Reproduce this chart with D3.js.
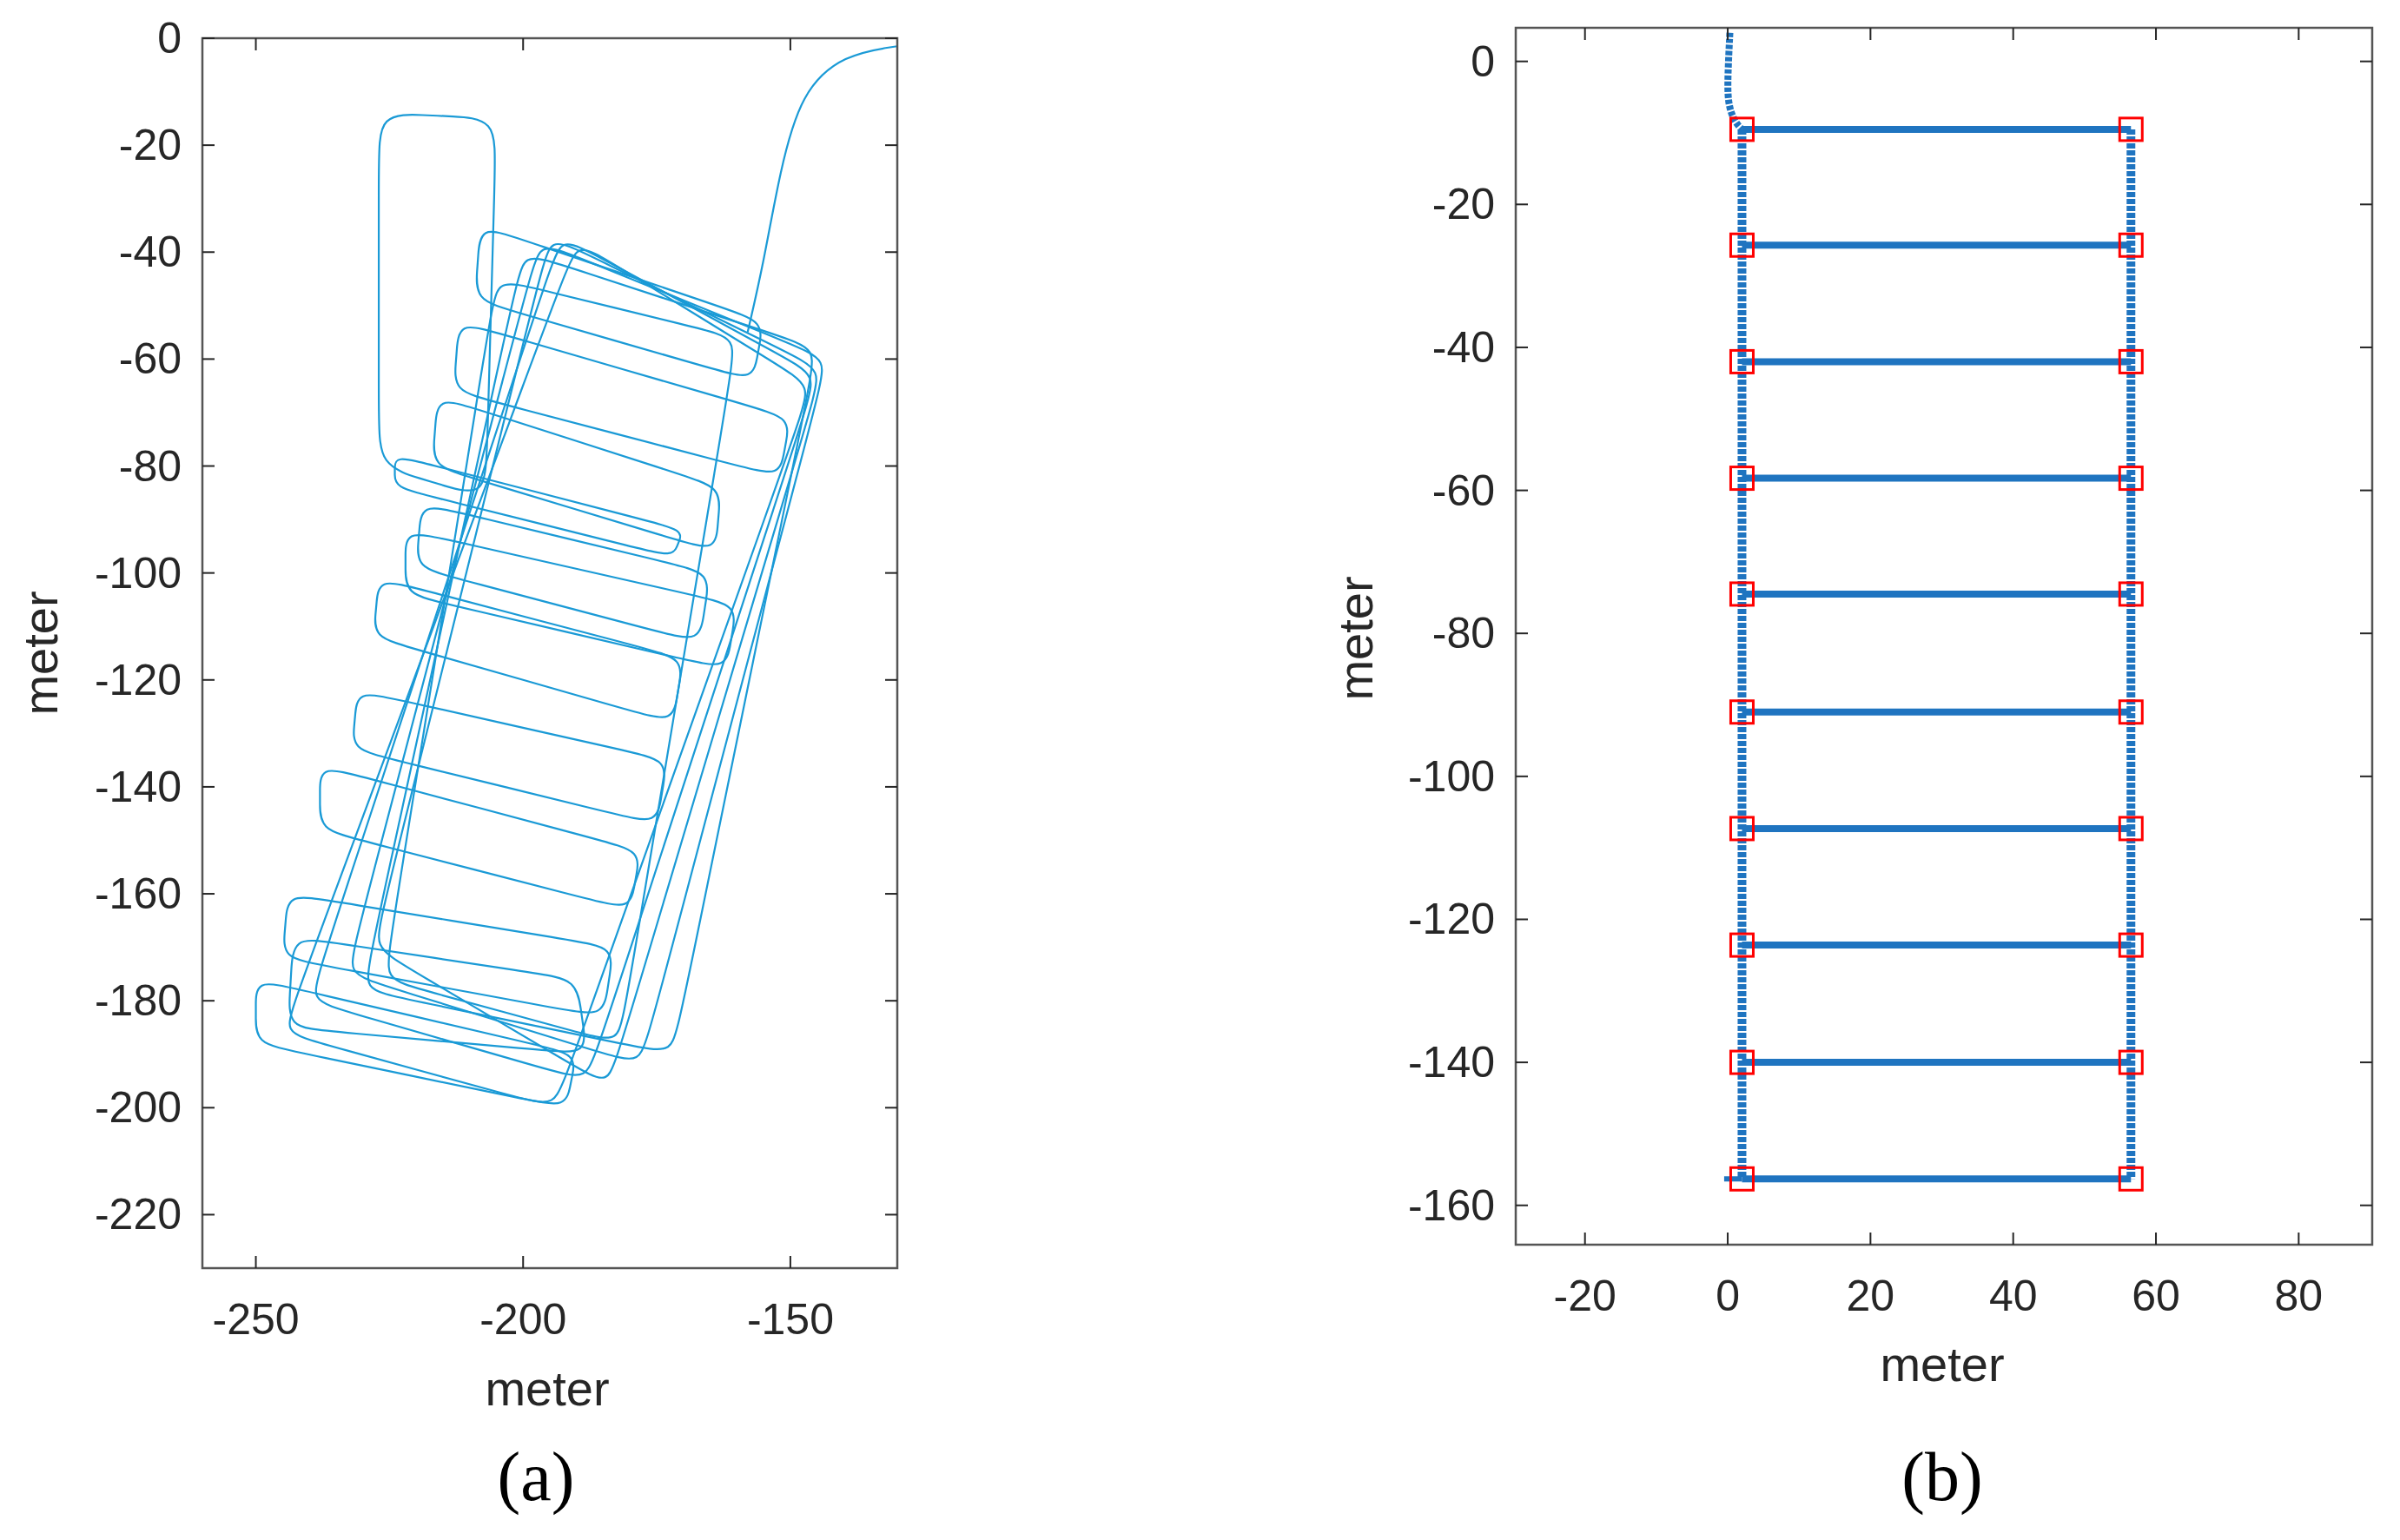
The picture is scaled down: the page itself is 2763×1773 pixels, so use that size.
<!DOCTYPE html>
<html><head><meta charset="utf-8">
<script src="https://cdn.jsdelivr.net/npm/d3@7"></script>
<style>body{margin:0;background:#fff}</style></head>
<body><svg id="c" width="2763" height="1773"></svg>
<script>
// ---------- data ----------
const aXTicks = [-250, -200, -150];
const aYTicks = [0, -20, -40, -60, -80, -100, -120, -140, -160, -180, -200, -220];
const bXTicks = [-20, 0, 20, 40, 60, 80];
const bYTicks = [0, -20, -40, -60, -80, -100, -120, -140, -160];

// trajectory (a): entry curve
const aEntry = [[-130,-1.5],[-140,-3],[-148,-10],[-152,-25],[-155,-42],[-158,-55]];
// trajectory (a): tall first loop
const aTall = [[-227,-14],[-205,-15],[-207,-86],[-227,-80]];
// trajectory (a): closed loops, corner waypoints
const aLoops = [
  [[-224,-78],[-170,-92],[-172,-97],[-224,-84]],
  [[-208,-35],[-155,-53],[-157,-64],[-209,-49]],
  [[-212,-53],[-150,-71],[-152,-82],[-213,-66]],
  [[-216,-67],[-163,-84],[-164,-96],[-217,-80]],
  [[-219,-87],[-165,-100],[-167,-113],[-220,-99]],
  [[-222,-92],[-160,-106],[-162,-118],[-222,-104]],
  [[-227,-101],[-170,-116],[-172,-128],[-228,-112]],
  [[-231,-122],[-173,-135],[-175,-147],[-232,-133]],
  [[-238,-136],[-178,-152],[-180,-163],[-238,-148]],
  [[-244,-160],[-183,-170],[-185,-183],[-245,-172]],
  [[-243,-168],[-190,-176],[-188,-190],[-244,-185]],
  [[-250,-176],[-190,-190],[-192,-200],[-250,-188]],
  [[-200,-40],[-145,-58],[-172,-190],[-230,-178]],
  [[-197,-38],[-143,-60],[-178,-192],[-233,-175]],
  [[-195,-37],[-144,-62],[-184,-196],[-228,-170]],
  [[-193,-37],[-145,-63],[-188,-195],[-240,-180]],
  [[-190,-38],[-146,-65],[-194,-200],[-245,-186]],
  [[-205,-45],[-160,-56],[-182,-188],[-226,-176]]
];

// trajectory (b)
const bEntry = [[0.3,4],[0,-2],[0,-6],[1,-8.5],[2,-9.5]];
const bRowY = [-9.5,-25.7,-42,-58.3,-74.5,-91,-107.3,-123.6,-140,-156.3];
const bLeftX = 2, bRightX = 56.5;

// ---------- drawing ----------
const svg = d3.select("#c");
const FONT = "'Liberation Sans', Arial, sans-serif";

function frame(g, x, y, xt, yt, L, R, T, B) {
  const ax = "#262626";
  g.append("rect").attr("x",L).attr("y",T).attr("width",R-L).attr("height",B-T)
   .attr("fill","none").attr("stroke","#555").attr("stroke-width",2.5);
  const tl = 14;
  xt.forEach(v=>{
    g.append("line").attr("x1",x(v)).attr("x2",x(v)).attr("y1",B).attr("y2",B-tl).attr("stroke",ax).attr("stroke-width",2);
    g.append("line").attr("x1",x(v)).attr("x2",x(v)).attr("y1",T).attr("y2",T+tl).attr("stroke",ax).attr("stroke-width",2);
    g.append("text").attr("x",x(v)).attr("y",B+76).attr("text-anchor","middle")
     .attr("font-family",FONT).attr("font-size",50).attr("fill","#262626").text(v);
  });
  yt.forEach(v=>{
    g.append("line").attr("y1",y(v)).attr("y2",y(v)).attr("x1",L).attr("x2",L+tl).attr("stroke",ax).attr("stroke-width",2);
    g.append("line").attr("y1",y(v)).attr("y2",y(v)).attr("x1",R).attr("x2",R-tl).attr("stroke",ax).attr("stroke-width",2);
    g.append("text").attr("x",L-24).attr("y",y(v)+17).attr("text-anchor","end")
     .attr("font-family",FONT).attr("font-size",50).attr("fill","#262626").text(v);
  });
}

// rounding helper: add points near each corner, then basis curve
function rounded(poly, r) {
  const out = [];
  const n = poly.length;
  for (let i=0;i<n;i++){
    const p=poly[i], a=poly[(i-1+n)%n], b=poly[(i+1)%n];
    const da=Math.hypot(a[0]-p[0],a[1]-p[1]), db=Math.hypot(b[0]-p[0],b[1]-p[1]);
    const ta=Math.min(r/da,0.45), tb=Math.min(r/db,0.45);
    out.push([p[0]+(a[0]-p[0])*ta, p[1]+(a[1]-p[1])*ta]);
    out.push(p);
    out.push([p[0]+(b[0]-p[0])*tb, p[1]+(b[1]-p[1])*tb]);
  }
  return out;
}

// ----- panel a -----
{
  const L=233,R=1033,T=44,B=1460;
  const x=d3.scaleLinear().domain([-260,-130]).range([L,R]);
  const y=d3.scaleLinear().domain([-230,0]).range([B,T]);
  const g=svg.append("g");
  g.append("clipPath").attr("id","ca").append("rect").attr("x",L).attr("y",T).attr("width",R-L).attr("height",B-T);
  const pg=g.append("g").attr("clip-path","url(#ca)");
  const col="#1a9ad6";
  const lineOpen=d3.line().x(d=>x(d[0])).y(d=>y(d[1])).curve(d3.curveBasis);
  const lineClosed=d3.line().x(d=>x(d[0])).y(d=>y(d[1])).curve(d3.curveBasisClosed);
  pg.append("path").attr("d",lineOpen(aEntry)).attr("fill","none").attr("stroke",col).attr("stroke-width",2.2);
  pg.append("path").attr("d",lineClosed(rounded(aTall,9))).attr("fill","none").attr("stroke",col).attr("stroke-width",2.2);
  aLoops.forEach(p=>pg.append("path").attr("d",lineClosed(rounded(p,7)))
     .attr("fill","none").attr("stroke",col).attr("stroke-width",2.2));
  frame(g,x,y,aXTicks,aYTicks,L,R,T,B);
  g.append("text").attr("x",630).attr("y",1618).attr("text-anchor","middle").attr("font-family",FONT).attr("font-size",56).attr("fill","#262626").text("meter");
  g.append("text").attr("transform","translate(66,752) rotate(-90)").attr("text-anchor","middle").attr("font-family",FONT).attr("font-size",56).attr("fill","#262626").text("meter");
  g.append("text").attr("x",617).attr("y",1727).attr("text-anchor","middle").attr("font-family","'Liberation Serif','Times New Roman',serif").attr("font-size",80).attr("fill","#000").text("(a)");
}

// ----- panel b -----
{
  const L=1745,R=2731,T=32,B=1433;
  const x=d3.scaleLinear().domain([-29.7,90.3]).range([L,R]);
  const y=d3.scaleLinear().domain([-165.5,4.7]).range([B,T]);
  const g=svg.append("g");
  const col="#1f74c0";
  const line=d3.line().x(d=>x(d[0])).y(d=>y(d[1]));
  g.append("path").attr("d",line.curve(d3.curveBasis)(bEntry)).attr("fill","none").attr("stroke",col).attr("stroke-width",8).attr("stroke-dasharray","5,2");
  const ln=d3.line().x(d=>x(d[0])).y(d=>y(d[1]));
  [bLeftX,bRightX].forEach(vx=>{
    g.append("path").attr("d",ln([[vx,bRowY[0]],[vx,bRowY[bRowY.length-1]]]))
     .attr("stroke",col).attr("stroke-width",10).attr("stroke-dasharray","6,2").attr("fill","none");
  });
  bRowY.forEach(v=>{
    g.append("path").attr("d",ln([[bLeftX,v],[bRightX,v]])).attr("stroke",col).attr("stroke-width",8).attr("fill","none");
  });
  g.append("path").attr("d",ln([[-0.5,bRowY[bRowY.length-1]],[bLeftX,bRowY[bRowY.length-1]]])).attr("stroke",col).attr("stroke-width",6);
  const s=26;
  bRowY.forEach(v=>[bLeftX,bRightX].forEach(vx=>{
    g.append("rect").attr("x",x(vx)-s/2).attr("y",y(v)-s/2).attr("width",s).attr("height",s)
     .attr("fill","none").attr("stroke","#ff0000").attr("stroke-width",3);
  }));
  frame(g,x,y,bXTicks,bYTicks,L,R,T,B);
  g.append("text").attr("x",2236).attr("y",1590).attr("text-anchor","middle").attr("font-family",FONT).attr("font-size",56).attr("fill","#262626").text("meter");
  g.append("text").attr("transform","translate(1580,735) rotate(-90)").attr("text-anchor","middle").attr("font-family",FONT).attr("font-size",56).attr("fill","#262626").text("meter");
  g.append("text").attr("x",2236).attr("y",1727).attr("text-anchor","middle").attr("font-family","'Liberation Serif','Times New Roman',serif").attr("font-size",80).attr("fill","#000").text("(b)");
}
</script></body></html>
